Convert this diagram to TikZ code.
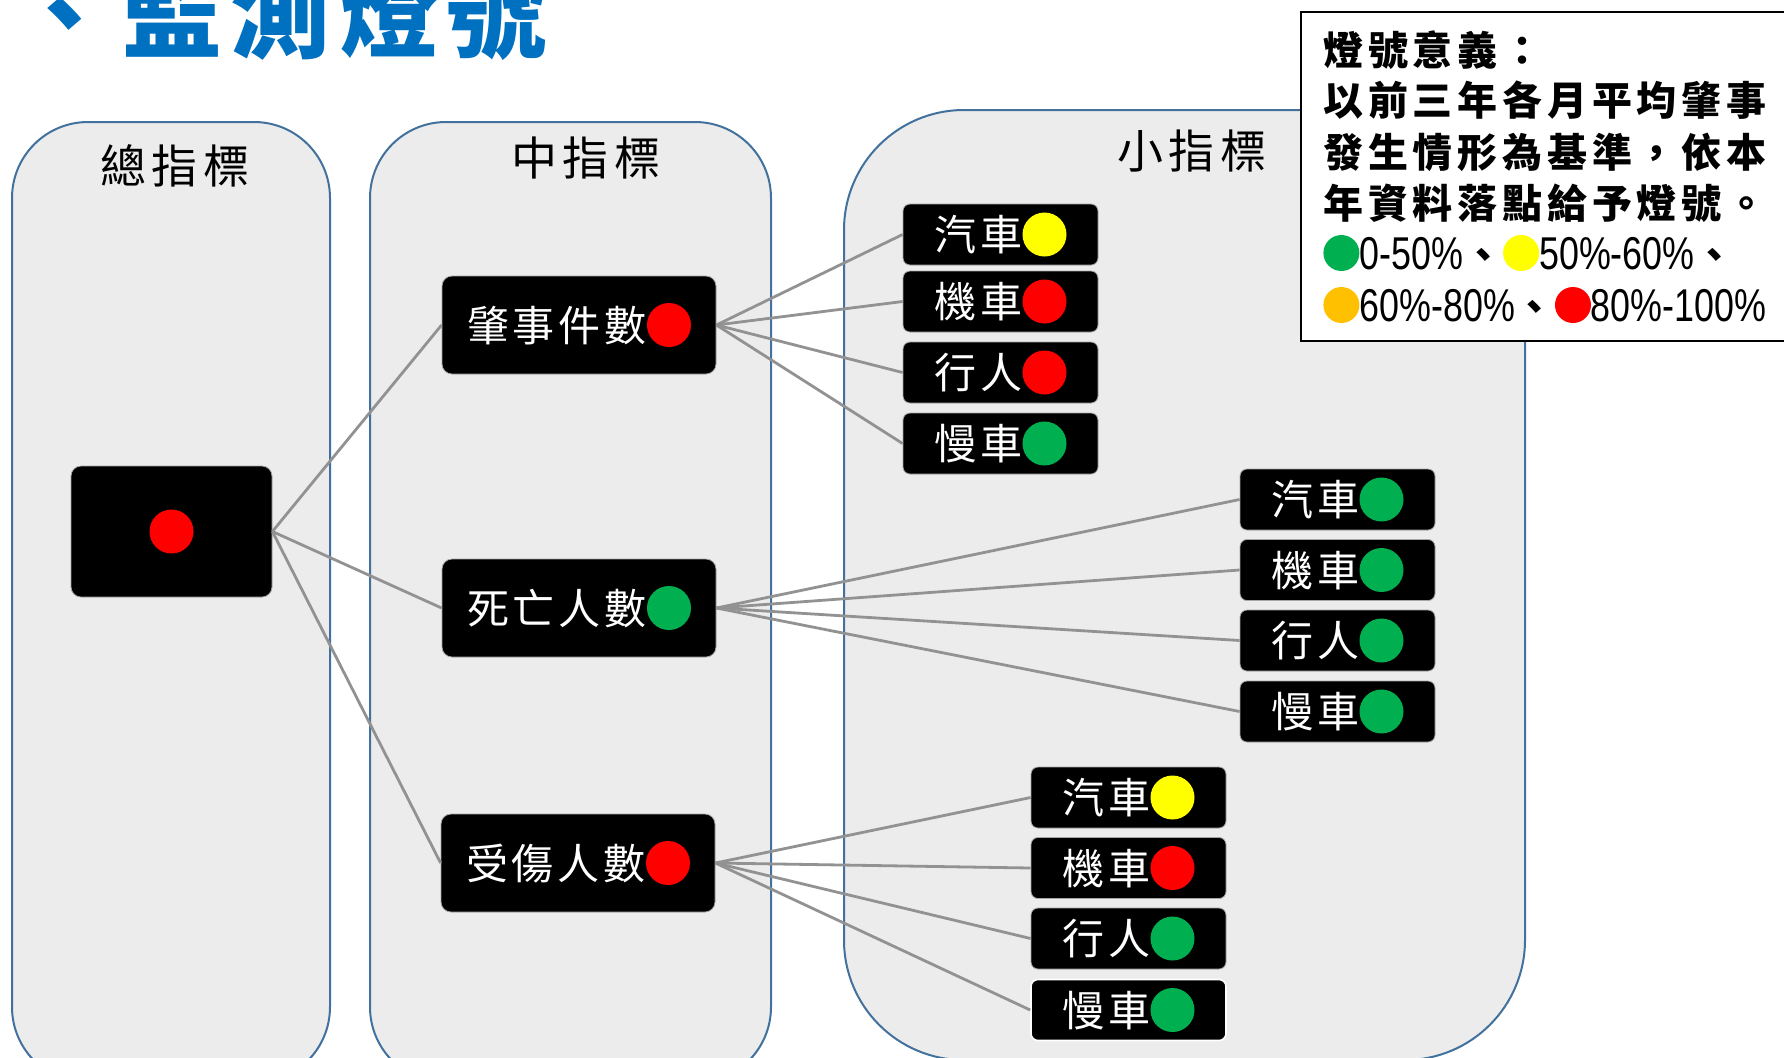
\documentclass[tikz,border=0pt]{standalone}
\usepackage{fontspec}
\usepackage{xcolor}
\usetikzlibrary{positioning,calc}
\setmainfont{Noto Sans CJK TC}
\newfontfamily\titlefont[LetterSpace=8]{Noto Sans CJK TC}
\newfontfamily\headfont[LetterSpace=13]{Noto Sans CJK TC}
\newfontfamily\boxfont[LetterSpace=9.5]{Noto Sans CJK TC}
\newfontfamily\legfont[LetterSpace=12]{Noto Sans CJK TC}
\newfontfamily\numfont[FakeStretch=0.78]{Liberation Sans}

\definecolor{titleblue}{HTML}{0070C0}
\definecolor{panelblue}{HTML}{41719C}
\definecolor{panelgray}{HTML}{ECECEC}
\definecolor{linkgray}{HTML}{929292}
\definecolor{lampgreen}{HTML}{00B050}
\definecolor{lampyellow}{HTML}{FFFF00}
\definecolor{lamporange}{HTML}{FFC000}
\definecolor{lampred}{HTML}{FF0000}

\newcommand{\lampdot}[1]{\tikz[baseline={(0,-8pt)}]\fill[#1] (0,0) circle (11pt);}
\newcommand{\legdot}[1]{\tikz[baseline={(0,-8.25pt)}]\fill[#1] (0,0) circle (9pt);}
\newcommand{\legnum}[1]{{\numfont\mdseries\fontsize{23pt}{24pt}\selectfont #1}}

\begin{document}
\begin{tikzpicture}[x=0.5pt,y=-0.5pt,
    panel/.style={draw=panelblue,line width=1pt,fill=panelgray,rounded corners=38pt},
    head/.style={inner sep=0pt,font=\headfont\fontsize{23pt}{26pt}\selectfont},
    lampbox/.style={draw=gray!70,line width=0.4pt,fill=black,rounded corners=5pt,text=white,inner sep=0pt,minimum width=137pt,minimum height=49pt,font=\boxfont\fontsize{21pt}{24pt}\selectfont},
    subbox/.style={lampbox,minimum width=97.5pt,minimum height=30.5pt,rounded corners=3.5pt},
    link/.style={draw=linkgray,line width=1.4pt},
    legbox/.style={draw=black,line width=1pt,fill=white,inner sep=0pt},
    legtext/.style={anchor=base west,inner sep=0pt,font=\legfont\bfseries\fontsize{20pt}{24pt}\selectfont}
  ]
    \clip (0,0) rectangle (1784,1057);

    % Panels
    \draw[panel] (12,122) rectangle (330,1083);
    \draw[panel] (370,122) rectangle (771,1083);
    \draw[panel,rounded corners=60pt] (844,110) rectangle (1525,1060);

    % Title
    \node[anchor=base west,inner sep=0pt,text=titleblue,font=\titlefont\bfseries\fontsize{50pt}{56pt}\selectfont] (title) at (14,50) {、監測燈號};

    % Panel headings
    \node[head] (h1) at (175,166) {總指標};
    \node[head] (h2) at (586,158) {中指標};
    \node[head] (h3) at (1192,151) {小指標};

    % Total and middle indicators
    \node[lampbox,minimum width=100.5pt,minimum height=65.5pt] (tot) at (171.5,531.5) {\lampdot{lampred}};
    \node[lampbox] (m1) at (579,325) {肇事件數\lampdot{lampred}};
    \node[lampbox] (m2) at (579,608) {死亡人數\lampdot{lampgreen}};
    \node[lampbox] (m3) at (578,863) {受傷人數\lampdot{lampred}};

    % Small indicators - accidents
    \node[subbox] (a1) at (1000.5,234.5) {汽車\lampdot{lampyellow}};
    \node[subbox] (a2) at (1000.5,301.5) {機車\lampdot{lampred}};
    \node[subbox] (a3) at (1000.5,372.5) {行人\lampdot{lampred}};
    \node[subbox] (a4) at (1000.5,443.5) {慢車\lampdot{lampgreen}};

    % Small indicators - deaths
    \node[subbox] (d1) at (1337.5,499.5) {汽車\lampdot{lampgreen}};
    \node[subbox] (d2) at (1337.5,570) {機車\lampdot{lampgreen}};
    \node[subbox] (d3) at (1337.5,640.5) {行人\lampdot{lampgreen}};
    \node[subbox] (d4) at (1337.5,711.5) {慢車\lampdot{lampgreen}};

    % Small indicators - injuries
    \node[subbox] (i1) at (1128.5,797.5) {汽車\lampdot{lampyellow}};
    \node[subbox] (i2) at (1128.5,868) {機車\lampdot{lampred}};
    \node[subbox] (i3) at (1128.5,938.5) {行人\lampdot{lampgreen}};
    \node[subbox,draw=white,line width=0.8pt] (i4) at (1128.5,1010) {慢車\lampdot{lampgreen}};

    % Links
    \draw[link] (tot.east) -- (m1.west);
    \draw[link] (tot.east) -- (m2.west);
    \draw[link] (tot.east) -- (m3.west);
    \draw[link] (m1.east) -- (a1.west);
    \draw[link] (m1.east) -- (a2.west);
    \draw[link] (m1.east) -- (a3.west);
    \draw[link] (m1.east) -- (a4.west);
    \draw[link] (m2.east) -- (d1.west);
    \draw[link] (m2.east) -- (d2.west);
    \draw[link] (m2.east) -- (d3.west);
    \draw[link] (m2.east) -- (d4.west);
    \draw[link] (m3.east) -- (i1.west);
    \draw[link] (m3.east) -- (i2.west);
    \draw[link] (m3.east) -- (i3.west);
    \draw[link] (m3.east) -- (i4.west);

    % Legend
    \node[legbox,anchor=north west,minimum width=250pt,minimum height=164.5pt] (leg) at (1300,11) {};
    \node[legtext] (l1) at (1323,65) {燈號意義：};
    \node[legtext] (l2) at (1323,115) {以前三年各月平均肇事};
    \node[legtext] (l3) at (1323,167) {發生情形為基準，依本};
    \node[legtext] (l4) at (1323,218) {年資料落點給予燈號。};
    \node[legtext] (l5) at (1323,269.5) {\legdot{lampgreen}\legnum{0-50\%}、\legdot{lampyellow}\legnum{50\%-60\%}、};
    \node[legtext] (l6) at (1323,321.5) {\legdot{lamporange}\legnum{60\%-80\%}、\legdot{lampred}\legnum{80\%-100\%}};
  \end{tikzpicture}
\end{document}
